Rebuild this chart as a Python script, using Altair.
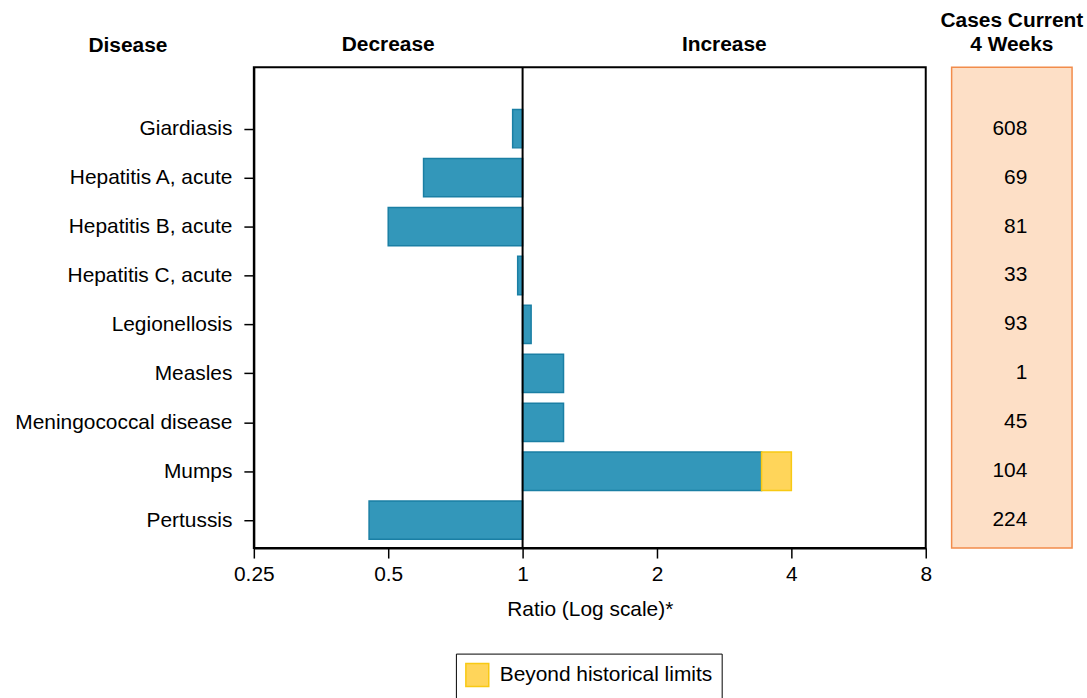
import json
import altair as alt
import pandas as pd

FONT = "Liberation Sans"

diseases = ["Giardiasis", "Hepatitis A, acute", "Hepatitis B, acute", "Hepatitis C, acute",
            "Legionellosis", "Measles", "Meningococcal disease", "Mumps", "Pertussis"]
ratios = [0.95, 0.60, 0.50, 0.975, 1.045, 1.235, 1.235, 3.43, 0.453]
beyond_limit = [None, None, None, None, None, None, None, 4.0, None]
cases = [608, 69, 81, 33, 93, 1, 45, 104, 224]
x_ticks = [0.25, 0.5, 1, 2, 4, 8]
headers = ["Decrease", "Increase"]
header_pos = [0.5, 2.83]
legend_label = "Beyond historical limits"

df = pd.DataFrame({
    "disease": diseases,
    "idx": list(range(len(diseases))),
    "ratio": ratios,
    "base": [1] * len(diseases),
    "beyond": beyond_limit,
    "cases": cases,
    "label": [legend_label] * len(diseases),
})

y_scale = alt.Scale(domain=[-1.255, 8.57], reverse=True, nice=False, zero=False, padding=0)
label_expr = json.dumps(diseases) + "[datum.value]"

y_enc = alt.Y("idx:Q", scale=y_scale,
              axis=alt.Axis(values=list(range(len(diseases))), labelExpr=label_expr,
                            title="Disease", titleAngle=0, titleX=-127, titleY=-22,
                            titleAlign="center", titleBaseline="middle",
                            titleFontWeight="bold", titleFontSize=21,
                            labelFontSize=21, tickSize=10, labelPadding=12, grid=False,
                            labelLimit=0,
                            domainColor="black", domainWidth=2, tickColor="black",
                            tickWidth=1.5, labelColor="black", titleColor="black",
                            labelFont=FONT, titleFont=FONT))

x_scale = alt.Scale(type="log", base=2, domain=[0.25, 8], nice=False, padding=0)
x_enc = alt.X("base:Q", scale=x_scale,
              axis=alt.Axis(values=x_ticks, format="~g", title="Ratio (Log scale)*",
                            labelFontSize=21, titleFontSize=21, titleFontWeight="normal",
                            tickSize=10, labelPadding=6, titlePadding=14, grid=False,
                            domainColor="black", domainWidth=2, tickColor="black",
                            tickWidth=1.5, labelColor="black", titleColor="black",
                            labelFont=FONT, titleFont=FONT, labelFlush=False))

bars = alt.Chart(df).mark_bar(size=38.5, orient="horizontal", color="#3397BA",
                              stroke="#1A7FA4", strokeWidth=1.5, opacity=1).encode(
    x=x_enc, x2="ratio:Q", y=y_enc)

beyond = alt.Chart(df).transform_filter("isValid(datum.beyond)").mark_bar(
    size=38.5, orient="horizontal", stroke="#F8C913", strokeWidth=1.5, opacity=1).encode(
    x=alt.X("ratio:Q", scale=x_scale),
    x2="beyond:Q",
    y=alt.Y("idx:Q", scale=y_scale),
    color=alt.Color("label:N", scale=alt.Scale(domain=[legend_label], range=["#FFD55A"]),
                    legend=alt.Legend(title=None, orient="none", legendX=203, legendY=589,
                                      symbolType="square", symbolSize=529,
                                      labelFontSize=21, labelFont=FONT, labelColor="black",
                                      labelLimit=0,
                                      strokeColor="black", padding=9, labelOffset=10,
                                      symbolStrokeColor="#F8C913", symbolStrokeWidth=1.5)))

zero_rule = alt.Chart(pd.DataFrame({"v": [1]})).mark_rule(color="black", strokeWidth=2).encode(
    x=alt.X("v:Q", scale=x_scale))

header_df = pd.DataFrame({"h": headers, "p": header_pos})
header_text = alt.Chart(header_df).mark_text(fontWeight="bold", fontSize=21, font=FONT,
                                             baseline="middle", align="center", y=-22,
                                             color="black").encode(
    x=alt.X("p:Q", scale=x_scale), text="h:N")

left = alt.layer(bars, beyond, zero_rule, header_text).properties(
    width=675, height=483,
    view=alt.ViewBackground(stroke="black", strokeWidth=2))

right = alt.Chart(df).mark_text(fontSize=21, font=FONT, align="right", baseline="middle",
                                color="black").encode(
    y=alt.Y("idx:Q", scale=y_scale, axis=None),
    x=alt.value(76),
    text="cases:Q",
).properties(
    width=121, height=483,
    title=alt.TitleParams(["Cases Current", "4 Weeks"], fontSize=21, fontWeight="bold",
                          font=FONT, anchor="middle", offset=12, lineHeight=24, color="black"),
    view=alt.ViewBackground(fill="#FDDFC6", stroke="#F28C4B", strokeWidth=1.5))

chart = alt.hconcat(left, right, spacing=6).resolve_scale(y="independent").properties(
    padding={"left": 13, "top": 8, "right": 2, "bottom": 0},
    background="white",
).configure(font=FONT)

chart.save("out.html", embed_options={"renderer": "svg", "actions": False})
